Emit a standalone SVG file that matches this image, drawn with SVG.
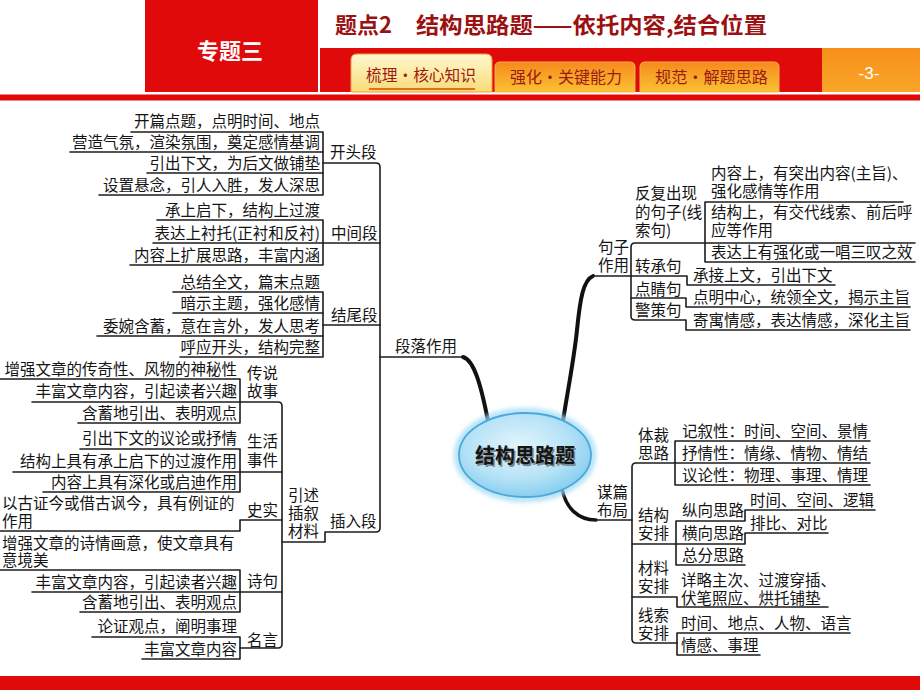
<svg xmlns="http://www.w3.org/2000/svg" width="920" height="690" viewBox="0 0 920 690">
<defs>
<style>
.t{font-family:"Noto Sans CJK SC","Noto Sans CJK JP",sans-serif;font-size:15.5px;fill:#141414}
.e{text-anchor:end}
.ln{fill:none;stroke:#1c1c1c;stroke-width:1.6;stroke-linejoin:round;stroke-linecap:round}
.thick{fill:none;stroke:#111;stroke-width:4;stroke-linecap:round}
.tab{font-family:"Noto Sans CJK SC",sans-serif;font-size:16px;fill:#9c1a14}
</style>
<linearGradient id="tab1" x1="0" y1="0" x2="0" y2="1"><stop offset="0" stop-color="#fff7cf"/><stop offset="1" stop-color="#f9dc78"/></linearGradient>
<linearGradient id="tab2" x1="0" y1="0" x2="0" y2="1"><stop offset="0" stop-color="#f58a1c"/><stop offset="1" stop-color="#fbc233"/></linearGradient>
<linearGradient id="org" x1="0" y1="0" x2="0" y2="1"><stop offset="0" stop-color="#f7901c"/><stop offset="1" stop-color="#f9a527"/></linearGradient>
<radialGradient id="ell" cx="0.45" cy="0.4" r="0.65"><stop offset="0" stop-color="#e3f5fc"/><stop offset="0.6" stop-color="#b5e2f6"/><stop offset="1" stop-color="#7fcaee"/></radialGradient>
<filter id="glow" x="-20%" y="-20%" width="140%" height="140%"><feGaussianBlur stdDeviation="2.5"/></filter>
</defs>
<rect width="920" height="690" fill="#fff"/>
<g id="header">
<rect x="145" y="0" width="173" height="92" fill="#e10a0a"/>
<rect x="320" y="48" width="502" height="44" fill="#e10a0a"/>
<rect x="822" y="48" width="98" height="44" fill="url(#org)"/>
<rect x="0" y="94.5" width="920" height="6" fill="#e10a0a"/>
<text x="230" y="59" text-anchor="middle" style="font-family:'Noto Sans CJK SC',sans-serif;font-size:22px;font-weight:bold;fill:#fff">专题三</text>
<text x="335" y="33" style="font-family:'Noto Sans CJK SC',sans-serif;font-size:22px;font-weight:bold;fill:#9b1111">题点2</text>
<text x="416" y="33" textLength="351" lengthAdjust="spacingAndGlyphs" style="font-family:'Noto Sans CJK SC',sans-serif;font-size:22px;font-weight:bold;fill:#9b1111">结构思路题——依托内容,结合位置</text>
<path d="M351,92 V60 Q351,54 357,54 H486 Q492,54 492,60 V92 Z" fill="url(#tab1)" stroke="#f0a040" stroke-width="1"/>
<path d="M495,92 V67 Q495,62 500,62 H630 Q635,62 635,67 V92 Z" fill="url(#tab2)" stroke="#f7b04a" stroke-width="1"/>
<path d="M640,92 V67 Q640,62 645,62 H774 Q779,62 779,67 V92 Z" fill="url(#tab2)" stroke="#f7b04a" stroke-width="1"/>
<text x="366" y="81" textLength="110" lengthAdjust="spacingAndGlyphs" class="tab">梳理·核心知识</text>
<line x1="369" y1="89" x2="475" y2="89" stroke="#e0701c" stroke-width="2"/>
<text x="510" y="83" textLength="112" lengthAdjust="spacingAndGlyphs" class="tab">强化·关键能力</text>
<text x="655" y="83" textLength="113" lengthAdjust="spacingAndGlyphs" class="tab">规范·解题思路</text>
<text x="869" y="79" text-anchor="middle" style="font-family:'Liberation Sans',sans-serif;font-size:17px;fill:#fff">-3-</text>
</g>
<rect x="0" y="676" width="920" height="14" fill="#e10a0a"/>

<g id="connectors">
<path class="thick" d="M463,357 C474,360 481,385 488,421"/>
<path class="thick" d="M593,276 C583,280 580,300 577,330 S566,400 563,421"/>
<path class="thick" d="M562,489 C566,508 578,520 596,520" style="stroke-width:3.5"/>
<path class="ln" d="M131,132 H323 V195 H99"/>
<path class="ln" d="M70,152 H323"/>
<path class="ln" d="M147,173 H323"/>
<path class="ln" d="M323,163 H376 Q380,163 380,167 V528 Q380,532 376,532 H325 V542 H282"/>
<path class="ln" d="M157,220 H323 V265 H130"/>
<path class="ln" d="M153,243 H380"/>
<path class="ln" d="M173,292 H323 V357 H180"/>
<path class="ln" d="M173,313 H323"/>
<path class="ln" d="M97,336 H323"/>
<path class="ln" d="M323,325 H380"/>
<path class="ln" d="M380,357 H463"/>
<path class="ln" d="M32,402 H278 Q282,402 282,406 V644 Q282,648 278,648 H240"/>
<path class="ln" d="M0,379 H240 V423 H78"/>
<path class="ln" d="M80,449 H240 V492 H43"/>
<path class="ln" d="M13,472 H282"/>
<path class="ln" d="M0,531 H240 V520 H282"/>
<path class="ln" d="M0,570 H240 V612 H80"/>
<path class="ln" d="M32,592 H282"/>
<path class="ln" d="M92,637 H240 V659 H142"/>
<path class="ln" d="M593,276 H687 V285 H835"/>
<path class="ln" d="M915,243 H635 Q631,243 631,247 V316 Q631,320 635,320 H686 V330 H910"/>
<path class="ln" d="M631,298 H686 V307 H910"/>
<path class="ln" d="M903,202 H705 V262 H915"/>
<path class="ln" d="M870,463 H636 Q632,463 632,467 V639 Q632,643 636,643 H677"/>
<path class="ln" d="M870,441 H675 V485 H870"/>
<path class="ln" d="M592,520 H632"/>
<path class="ln" d="M875,510 H745 V521 H676 V565 H745"/>
<path class="ln" d="M632,544 H745 V533 H828"/>
<path class="ln" d="M632,597 H677 V607 H828"/>
<path class="ln" d="M850,633 H677 V655 H760"/>
</g>

<g id="center">
<ellipse cx="525" cy="455" rx="68" ry="44" fill="none" stroke="#9fdcf5" stroke-width="5" filter="url(#glow)"/>
<ellipse cx="525" cy="455" rx="66" ry="42" fill="url(#ell)" stroke="#4aa8dc" stroke-width="1.8"/>
<text x="526.5" y="464.5" text-anchor="middle" style="font-family:'Noto Sans CJK SC',sans-serif;font-size:20px;font-weight:bold;fill:#7a8a90">结构思路题</text>
<text x="525" y="463" text-anchor="middle" style="font-family:'Noto Sans CJK SC',sans-serif;font-size:20px;font-weight:bold;fill:#151515">结构思路题</text>
</g>

<g id="n-duanluo"><text class="t" x="395" y="352">段落作用</text></g>
<g id="n-kaitou"><text class="t" x="330" y="158">开头段</text></g>
<g id="n-kaitou-1"><text class="t e" x="320" y="127">开篇点题，点明时间、地点</text></g>
<g id="n-kaitou-2"><text class="t e" x="320" y="148">营造气氛，渲染氛围，奠定感情基调</text></g>
<g id="n-kaitou-3"><text class="t e" x="320" y="169">引出下文，为后文做铺垫</text></g>
<g id="n-kaitou-4"><text class="t e" x="320" y="191">设置悬念，引人入胜，发人深思</text></g>
<g id="n-zhongjian"><text class="t" x="331" y="239">中间段</text></g>
<g id="n-zhongjian-1"><text class="t e" x="320" y="216">承上启下，结构上过渡</text></g>
<g id="n-zhongjian-2"><text class="t e" x="320" y="239">表达上衬托(正衬和反衬)</text></g>
<g id="n-zhongjian-3"><text class="t e" x="320" y="261">内容上扩展思路，丰富内涵</text></g>
<g id="n-jiewei"><text class="t" x="331" y="321">结尾段</text></g>
<g id="n-jiewei-1"><text class="t e" x="320" y="288">总结全文，篇末点题</text></g>
<g id="n-jiewei-2"><text class="t e" x="320" y="309">暗示主题，强化感情</text></g>
<g id="n-jiewei-3"><text class="t e" x="320" y="332">委婉含蓄，意在言外，发人思考</text></g>
<g id="n-jiewei-4"><text class="t e" x="320" y="353">呼应开头，结构完整</text></g>
<g id="n-charu"><text class="t" x="330" y="527">插入段</text></g>
<g id="n-yinshu"><text class="t"><tspan x="288" y="501">引述</tspan><tspan x="288" y="519">插叙</tspan><tspan x="288" y="537">材料</tspan></text></g>
<g id="n-chuanshuo"><text class="t"><tspan x="247" y="379">传说</tspan><tspan x="247" y="397">故事</tspan></text></g>
<g id="n-chuanshuo-1"><text class="t e" x="237" y="375">增强文章的传奇性、风物的神秘性</text></g>
<g id="n-chuanshuo-2"><text class="t e" x="237" y="397">丰富文章内容，引起读者兴趣</text></g>
<g id="n-chuanshuo-3"><text class="t e" x="237" y="419">含蓄地引出、表明观点</text></g>
<g id="n-shenghuo"><text class="t"><tspan x="247" y="447">生活</tspan><tspan x="247" y="466">事件</tspan></text></g>
<g id="n-shenghuo-1"><text class="t e" x="237" y="444">引出下文的议论或抒情</text></g>
<g id="n-shenghuo-2"><text class="t e" x="237" y="467">结构上具有承上启下的过渡作用</text></g>
<g id="n-shenghuo-3"><text class="t e" x="237" y="488">内容上具有深化或启迪作用</text></g>
<g id="n-shishi"><text class="t" x="247" y="516">史实</text></g>
<g id="n-shishi-1"><text class="t"><tspan x="2" y="509">以古证今或借古讽今，具有例证的</tspan><tspan x="2" y="527">作用</tspan></text></g>
<g id="n-shiju"><text class="t" x="247" y="587">诗句</text></g>
<g id="n-shiju-1"><text class="t"><tspan x="2" y="549">增强文章的诗情画意，使文章具有</tspan><tspan x="2" y="566">意境美</tspan></text></g>
<g id="n-shiju-2"><text class="t e" x="237" y="588">丰富文章内容，引起读者兴趣</text></g>
<g id="n-shiju-3"><text class="t e" x="237" y="608">含蓄地引出、表明观点</text></g>
<g id="n-mingyan"><text class="t" x="247" y="646">名言</text></g>
<g id="n-mingyan-1"><text class="t e" x="237" y="632">论证观点，阐明事理</text></g>
<g id="n-mingyan-2"><text class="t e" x="237" y="655">丰富文章内容</text></g>

<g id="n-juzi"><text class="t"><tspan x="598" y="253">句子</tspan><tspan x="598" y="271">作用</tspan></text></g>
<g id="n-fanfu"><text class="t"><tspan x="635" y="199">反复出现</tspan><tspan x="635" y="218">的句子(线</tspan><tspan x="635" y="236">索句)</tspan></text></g>
<g id="n-fanfu-1"><text class="t"><tspan x="711" y="179">内容上，有突出内容(主旨)、</tspan><tspan x="711" y="197">强化感情等作用</tspan></text></g>
<g id="n-fanfu-2"><text class="t"><tspan x="711" y="218">结构上，有交代线索、前后呼</tspan><tspan x="711" y="236">应等作用</tspan></text></g>
<g id="n-fanfu-3"><text class="t" x="711" y="258">表达上有强化或一唱三叹之效</text></g>
<g id="n-zhuancheng"><text class="t" x="635" y="272">转承句</text></g>
<g id="n-zhuancheng-1"><text class="t" x="693" y="281">承接上文，引出下文</text></g>
<g id="n-dianjing"><text class="t" x="635" y="295">点睛句</text></g>
<g id="n-dianjing-1"><text class="t" x="693" y="303">点明中心，统领全文，揭示主旨</text></g>
<g id="n-jingce"><text class="t" x="635" y="316">警策句</text></g>
<g id="n-jingce-1"><text class="t" x="693" y="326">寄寓情感，表达情感，深化主旨</text></g>

<g id="n-moupian"><text class="t"><tspan x="597" y="498">谋篇</tspan><tspan x="597" y="516">布局</tspan></text></g>
<g id="n-ticai"><text class="t"><tspan x="638" y="441">体裁</tspan><tspan x="638" y="459">思路</tspan></text></g>
<g id="n-ticai-1"><text class="t" x="682" y="437">记叙性：时间、空间、景情</text></g>
<g id="n-ticai-2"><text class="t" x="682" y="459">抒情性：情缘、情物、情结</text></g>
<g id="n-ticai-3"><text class="t" x="682" y="481">议论性：物理、事理、情理</text></g>
<g id="n-jiegou"><text class="t"><tspan x="638" y="521">结构</tspan><tspan x="638" y="539">安排</tspan></text></g>
<g id="n-zongxiang"><text class="t" x="682" y="516">纵向思路</text></g>
<g id="n-zongxiang-1"><text class="t" x="750" y="506">时间、空间、逻辑</text></g>
<g id="n-hengxiang"><text class="t" x="682" y="539">横向思路</text></g>
<g id="n-hengxiang-1"><text class="t" x="750" y="529">排比、对比</text></g>
<g id="n-zongfen"><text class="t" x="682" y="561">总分思路</text></g>
<g id="n-cailiao"><text class="t"><tspan x="638" y="574">材料</tspan><tspan x="638" y="592">安排</tspan></text></g>
<g id="n-cailiao-1"><text class="t"><tspan x="681" y="586">详略主次、过渡穿插、</tspan><tspan x="681" y="604">伏笔照应、烘托铺垫</tspan></text></g>
<g id="n-xiansuo"><text class="t"><tspan x="638" y="621">线索</tspan><tspan x="638" y="639">安排</tspan></text></g>
<g id="n-xiansuo-1"><text class="t" x="681" y="629">时间、地点、人物、语言</text></g>
<g id="n-xiansuo-2"><text class="t" x="681" y="651">情感、事理</text></g>
</svg>
